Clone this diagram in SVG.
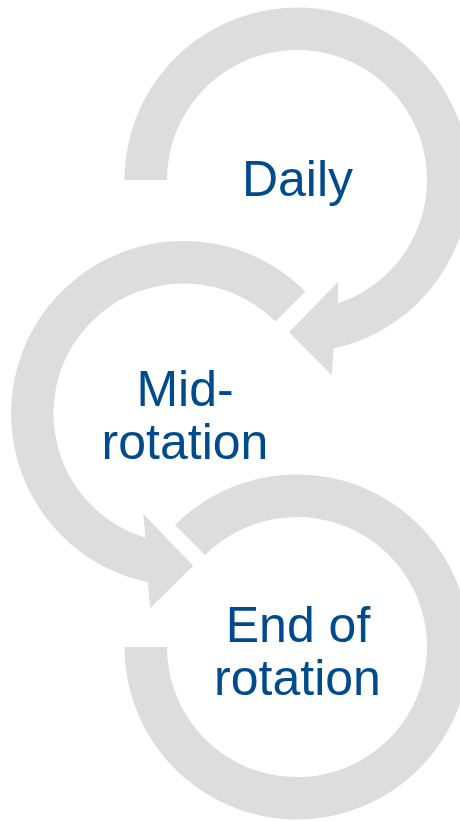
<svg xmlns="http://www.w3.org/2000/svg" width="460" height="821" viewBox="0 0 460 821">
<style>
.arc{fill:#DDDDDD;stroke:none}
.lbl{font-family:"Liberation Sans",Arial,sans-serif;font-size:50px;fill:#004A8E;text-anchor:middle}
</style>
<rect width="460" height="821" fill="#FFFFFF"/>
<g id="connectors">
<path id="arrow-daily" class="arc" d="M124.5,180 A172.5,172.5 0 1 1 333.8,348.5 L331.7,375 L289,332.3 L338.3,281.7 L337.8,303.4 A130,130 0 1 0 167,180 Z"/>
<path id="arrow-mid" class="arc" d="M305.5,291.5 A172.5,172.5 0 1 0 147.9,582.3 L150,608.3 L193.3,565.7 L143.3,514 L145.4,537.8 A130,130 0 1 1 275.4,321.6 Z"/>
<path id="arrow-end" class="arc" d="M124.5,647 A172.5,172.5 0 1 0 175,525 L205.1,555.1 A130,130 0 1 1 167,647 Z"/>
</g>
<g id="node-daily">
<text class="lbl" x="297.5" y="196">Daily</text>
</g>
<g id="node-mid">
<text class="lbl" x="185" y="405.5">Mid-</text>
<text class="lbl" x="185" y="459">rotation</text>
</g>
<g id="node-end">
<text class="lbl" x="298" y="641.5">End of</text>
<text class="lbl" x="297.5" y="694.5">rotation</text>
</g>
</svg>
